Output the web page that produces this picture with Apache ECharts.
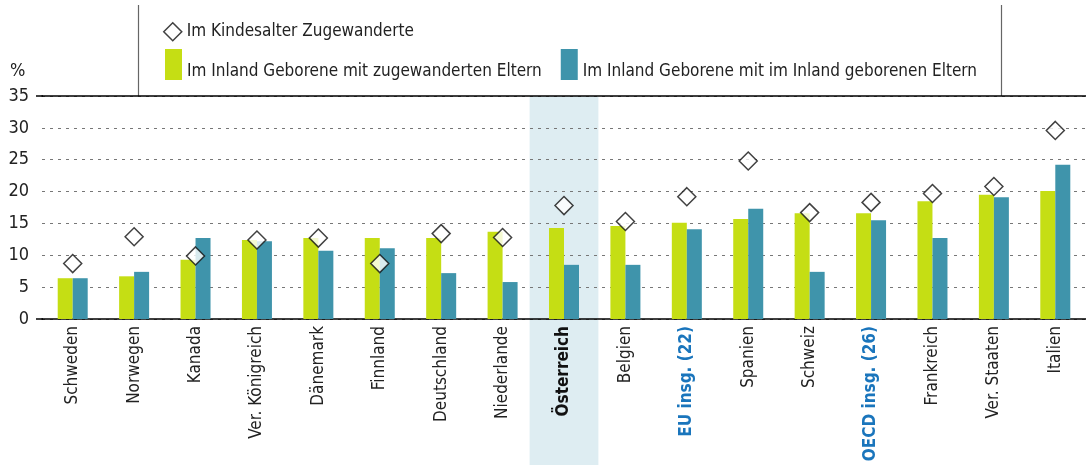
<!DOCTYPE html>
<html>
<head>
<meta charset="utf-8">
<script src="https://cdn.jsdelivr.net/npm/echarts@6/dist/echarts.min.js"></script>
<style>
  html, body { margin: 0; padding: 0; background: #fff; }
  #chart { width: 1086px; height: 465px; }
</style>
</head>
<body>
<div id="chart"></div>
<script>
const countries = [
  "Schweden", "Norwegen", "Kanada", "Ver. Königreich", "Dänemark", "Finnland",
  "Deutschland", "Niederlande", "Österreich", "Belgien", "EU insg. (22)", "Spanien",
  "Schweiz", "OECD insg. (26)", "Frankreich", "Ver. Staaten", "Italien"
];
const childMigrants = [8.7, 12.9, 9.9, 12.4, 12.7, 8.7, 13.4, 12.8, 17.8, 15.3, 19.2, 24.8, 16.7, 18.3, 19.7, 20.8, 29.6];
const migrantParents = [6.4, 6.7, 9.3, 12.4, 12.7, 12.7, 12.7, 13.7, 14.3, 14.6, 15.1, 15.7, 16.6, 16.6, 18.5, 19.5, 20.1];
const nativeParents = [6.4, 7.4, 12.7, 12.2, 10.7, 11.1, 7.2, 5.8, 8.5, 8.5, 14.1, 17.3, 7.4, 15.5, 12.7, 19.1, 24.2];
const yTicks = [0, 5, 10, 15, 20, 25, 30, 35];

const seriesNames = [
  "Im Kindesalter Zugewanderte",
  "Im Inland Geborene mit zugewanderten Eltern",
  "Im Inland Geborene mit im Inland geborenen Eltern"
];

const FONT = "'Liberation Sans Narrow', 'DejaVu Sans Condensed', sans-serif";
const GREEN = "#c5de14";
const BLUE = "#3f94ab";
const HIGHLIGHT = "Österreich";
const AGGREGATES = ["EU insg. (22)", "OECD insg. (26)"];

const chart = echarts.init(document.getElementById("chart"));

chart.setOption({
  animation: false,
  textStyle: { fontFamily: FONT },
  grid: { left: 42, right: 0, top: 96, bottom: 146 },
  legend: [
    {
      data: [{ name: seriesNames[0], icon: "diamond" }],
      left: 158, top: 17,
      itemWidth: 18, itemHeight: 18,
      itemTextGap: 4,
      itemStyle: { color: "#fff", borderColor: "#111", borderWidth: 1.5 },
      textStyle: { fontFamily: FONT, fontSize: 17, color: "#222" },
      selectedMode: false
    },
    {
      data: [
        { name: seriesNames[1], icon: "rect" },
        { name: seriesNames[2], icon: "rect" }
      ],
      left: 160, top: 44,
      itemWidth: 17, itemHeight: 31,
      itemGap: 19,
      itemTextGap: 5,
      formatter: name => `{t|${name}}`,
      textStyle: {
        fontFamily: FONT, fontSize: 17, color: "#222",
        rich: { t: { fontFamily: FONT, fontSize: 17, color: "#222", padding: [15, 0, 0, 0] } }
      },
      selectedMode: false
    }
  ],
  xAxis: [
    {
      type: "category",
      data: countries,
      axisLine: { lineStyle: { color: "#000", width: 1.5 } },
      axisTick: { show: false },
      axisLabel: {
        rotate: 90,
        margin: 7,
        fontSize: 17,
        color: "#222",
        fontFamily: FONT,
        formatter: v => v === HIGHLIGHT ? `{hl|${v}}` : (AGGREGATES.includes(v) ? `{agg|${v}}` : v),
        rich: {
          hl: { fontWeight: "bold", color: "#111", fontSize: 17, fontFamily: FONT },
          agg: { fontWeight: "bold", color: "#1a75bc", fontSize: 17, fontFamily: FONT }
        }
      }
    },
    {
      type: "category",
      position: "top",
      data: countries,
      axisLine: { lineStyle: { color: "#000", width: 1.5 } },
      axisTick: { show: false },
      axisLabel: { show: false }
    }
  ],
  yAxis: {
    type: "value",
    min: yTicks[0],
    max: yTicks[yTicks.length - 1],
    interval: 5,
    axisLine: { show: false },
    axisTick: { show: false },
    axisLabel: { fontSize: 18, color: "#222", margin: 13, fontFamily: FONT },
    splitLine: { lineStyle: { color: "#777", type: [3, 5], width: 1 } }
  },
  series: [
    {
      name: seriesNames[1],
      type: "bar",
      data: migrantParents,
      barWidth: 15,
      barGap: "0%",
      itemStyle: { color: GREEN },
      z: 2
    },
    {
      name: seriesNames[2],
      type: "bar",
      data: nativeParents,
      barWidth: 15,
      itemStyle: { color: BLUE },
      z: 2
    },
    {
      name: seriesNames[0],
      type: "scatter",
      data: childMigrants,
      symbol: "diamond",
      symbolSize: [18, 18],
      itemStyle: { color: "#fff", borderColor: "#111", borderWidth: 1.5 },
      z: 5
    }
  ]
});

// highlight band behind Österreich, baseline stub and legend frame, placed through the axes
function drawDecorations() {
  const idx = countries.indexOf(HIGHLIGHT);
  const cx = chart.convertToPixel({ xAxisIndex: 0 }, idx);
  const step = chart.convertToPixel({ xAxisIndex: 0 }, idx + 1) - cx;
  const yTop = chart.convertToPixel({ yAxisIndex: 0 }, yTicks[yTicks.length - 1]);
  const yBase = chart.convertToPixel({ yAxisIndex: 0 }, yTicks[0]);
  const bandW = step * 1.12;
  const h = chart.getHeight();

  chart.setOption({
    graphic: [
      {
        type: "rect",
        z: -10,
        shape: { x: cx - bandW / 2, y: yTop, width: bandW, height: h - yTop },
        style: { fill: "#deedf2" }
      },
      {
        type: "line",
        shape: { x1: 36, y1: yBase, x2: 43, y2: yBase },
        style: { stroke: "#000", lineWidth: 1.5 }
      },
      {
        type: "line",
        shape: { x1: 36, y1: yTop, x2: 43, y2: yTop },
        style: { stroke: "#000", lineWidth: 1.5 }
      },
      {
        type: "line",
        shape: { x1: 138.5, y1: 5, x2: 138.5, y2: yTop },
        style: { stroke: "#666", lineWidth: 1.2 }
      },
      {
        type: "line",
        shape: { x1: 1001.5, y1: 5, x2: 1001.5, y2: yTop },
        style: { stroke: "#666", lineWidth: 1.2 }
      },
      {
        type: "text",
        left: 10, top: 62,
        style: { text: "%", fontSize: 18, fill: "#222", fontFamily: FONT }
      }
    ]
  });
}

drawDecorations();
</script>
</body>
</html>
